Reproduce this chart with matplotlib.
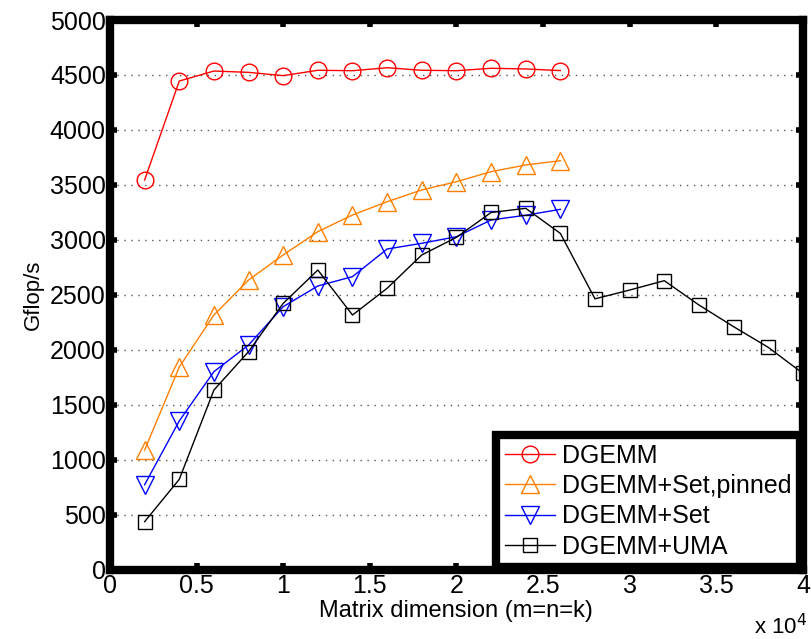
import matplotlib
matplotlib.use("Agg")
import matplotlib.pyplot as plt

plt.rcParams['font.family'] = ['Liberation Sans', 'DejaVu Sans']

x_main = [2000, 4000, 6000, 8000, 10000, 12000, 14000, 16000, 18000, 20000, 22000, 24000, 26000]
x_uma = [2000, 4000, 6000, 8000, 10000, 12000, 14000, 16000, 18000, 20000, 22000, 24000, 26000,
         28000, 30000, 32000, 34000, 36000, 38000, 40000]

dgemm = [3545, 4445, 4536, 4524, 4494, 4543, 4539, 4566, 4543, 4539, 4561, 4555, 4540]
dgemm_pinned = [1090, 1845, 2318, 2636, 2864, 3076, 3227, 3348, 3455, 3530, 3621, 3682, 3721]
dgemm_set = [775, 1355, 1803, 2045, 2394, 2582, 2667, 2918, 2970, 3030, 3182, 3225, 3279]
dgemm_uma = [439, 824, 1636, 1985, 2424, 2727, 2318, 2561, 2864, 3024, 3250, 3288, 3060,
             2465, 2545, 2630, 2409, 2212, 2024, 1788]

labels = ['DGEMM', 'DGEMM+Set,pinned', 'DGEMM+Set', 'DGEMM+UMA']
xticks = [0, 5000, 10000, 15000, 20000, 25000, 30000, 35000, 40000]
xticklabels = ['0', '0.5', '1', '1.5', '2', '2.5', '3', '3.5', '4']
yticks = list(range(0, 5001, 500))

fig = plt.figure(figsize=(8.11, 6.39), dpi=100)
ax = fig.add_axes([0.1356, 0.108, 0.8544, 0.8607])

ax.plot(x_main, dgemm, color='#ff0000', marker='o', markersize=12, markerfacecolor='none',
        markeredgewidth=1.0, linewidth=1.0, label=labels[0])
ax.plot(x_main, dgemm_pinned, color='#ff8000', marker='^', markersize=13, markerfacecolor='none',
        markeredgewidth=1.0, linewidth=1.0, label=labels[1])
ax.plot(x_main, dgemm_set, color='#0000ff', marker='v', markersize=13, markerfacecolor='none',
        markeredgewidth=1.0, linewidth=1.0, label=labels[2])
ax.plot(x_uma, dgemm_uma, color='black', marker='s', markersize=10, markerfacecolor='none',
        markeredgewidth=1.0, linewidth=1.0, label=labels[3])

ax.set_xlim(0, 40000)
ax.set_ylim(0, 5000)
ax.set_xticks(xticks)
ax.set_xticklabels(xticklabels)
ax.set_yticks(yticks)
ax.yaxis.grid(True, linestyle=(0, (1, 4)), color='#555555', linewidth=1.0)
ax.set_axisbelow(True)

for sp in ax.spines.values():
    sp.set_linewidth(6)
ax.tick_params(direction='in', length=5, width=4, top=True, right=True, labelsize=18, pad=3)

ax.set_xlabel('Matrix dimension (m=n=k)', fontsize=17, labelpad=1)
ax.set_ylabel('Gflop/s', fontsize=16, labelpad=4)
fig.text(0.962, 0.0, r'x 10$^{4}$', fontsize=16, ha='center', va='bottom')

leg = ax.legend(loc='lower right', fontsize=18, frameon=True, fancybox=False,
                framealpha=1.0, edgecolor='black', borderaxespad=0.1, handlelength=2.0,
                labelspacing=0.25, borderpad=0.35, handletextpad=0.3)
leg.get_frame().set_linewidth(6)

fig.savefig('out.png', dpi=100)
